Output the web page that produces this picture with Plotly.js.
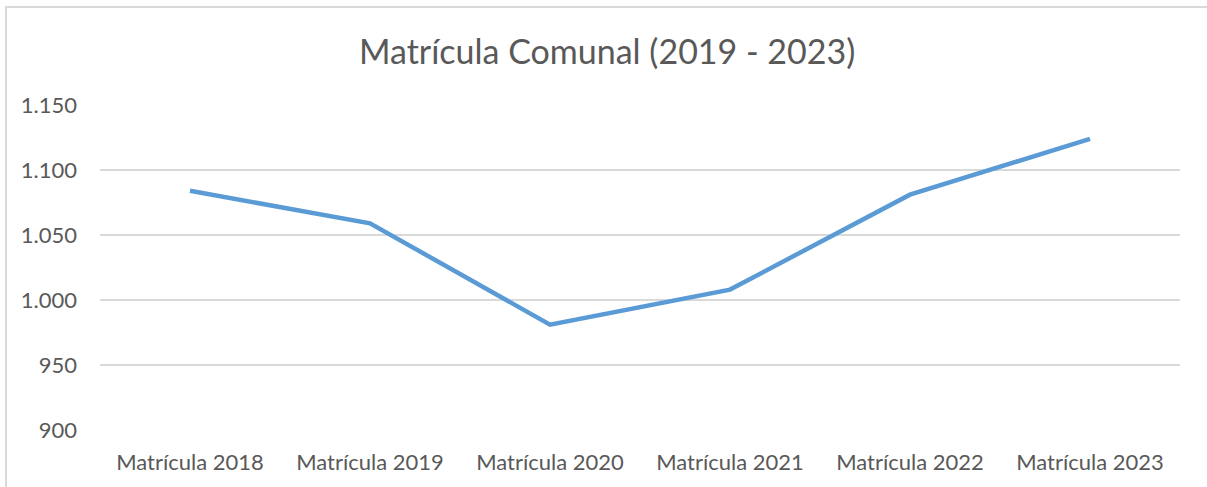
<!DOCTYPE html>
<html>
<head>
<meta charset="utf-8">
<script src="https://cdn.plot.ly/plotly-3.0.1.min.js"></script>
<style>
  html, body { margin: 0; padding: 0; background: #fff; overflow: hidden; }
  #wrap { position: relative; width: 1207px; height: 487px; }
  #chart { width: 1207px; height: 487px; }
  #frame { position: absolute; left: 5px; top: 6px; width: 1220px; height: 500px;
           border: 2px solid #d9d9d9; pointer-events: none; box-sizing: border-box; }
</style>
</head>
<body>
<div id="wrap">
  <div id="chart"></div>
  <div id="frame"></div>
</div>
<script>
const categories = ["Matrícula 2018", "Matrícula 2019", "Matrícula 2020", "Matrícula 2021", "Matrícula 2022", "Matrícula 2023"];
const matricula = [1084, 1059, 981, 1008, 1081, 1124];
const chartTitle = "Matrícula Comunal (2019 - 2023)";

const textColor = "#595959";
const fontFamily = "Lato, 'Open Sans', sans-serif";

const trace = {
  type: "scatter",
  mode: "lines",
  x: categories,
  y: matricula,
  line: { color: "#5B9BD5", width: 4.5 },
  hoverinfo: "x+y"
};

const layout = {
  width: 1207,
  height: 487,
  margin: { l: 100, r: 27, t: 105, b: 57 },
  paper_bgcolor: "#ffffff",
  plot_bgcolor: "#ffffff",
  showlegend: false,
  separators: ",.",
  font: { family: fontFamily, color: textColor, size: 22 },
  title: {
    text: chartTitle,
    font: { family: fontFamily, size: 34, color: textColor },
    x: 0.503, xref: "container", xanchor: "center",
    y: 0.893, yref: "container", yanchor: "middle"
  },
  xaxis: {
    type: "category",
    range: [-0.5, 5.5],
    showgrid: false,
    zeroline: false,
    showline: false,
    ticks: "",
    tickfont: { family: fontFamily, size: 22, color: textColor },
    ticklabelstandoff: 17
  },
  yaxis: {
    range: [900, 1150],
    tickvals: [900, 950, 1000, 1050, 1100, 1150],
    tickformat: ",d",
    showgrid: true,
    gridcolor: "#d9d9d9",
    gridwidth: 1.5,
    zeroline: false,
    showline: false,
    ticks: "",
    tickfont: { family: fontFamily, size: 22, color: textColor },
    ticklabelstandoff: 22
  }
};

Plotly.newPlot("chart", [trace], layout, { displayModeBar: false, staticPlot: true });
</script>
</body>
</html>
